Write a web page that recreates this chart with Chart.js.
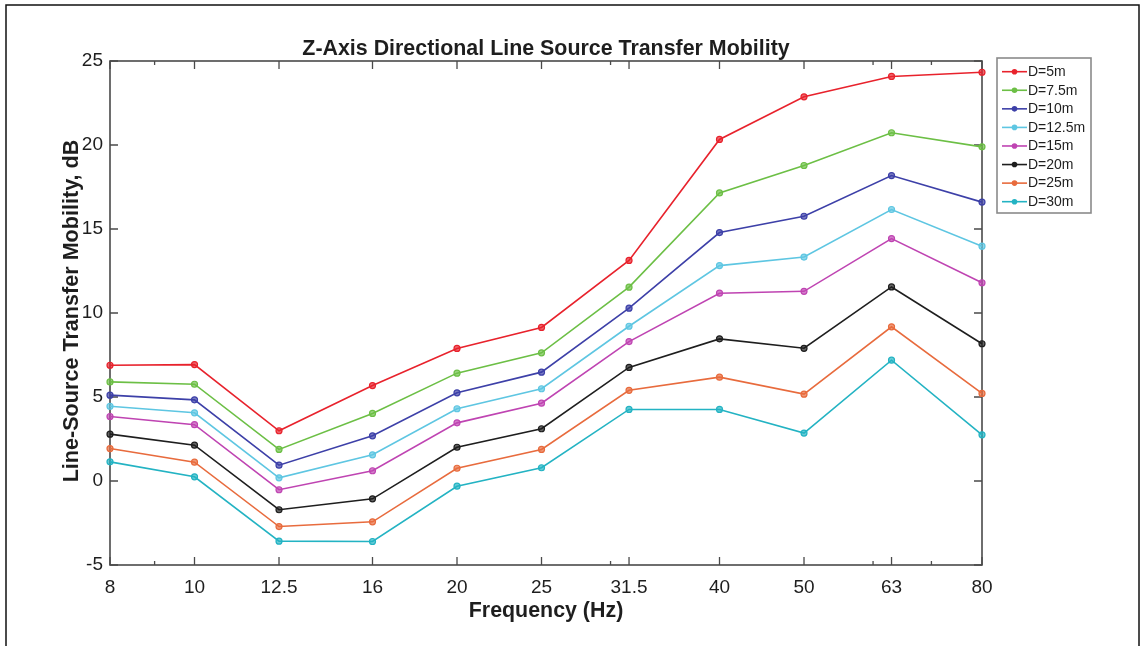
<!DOCTYPE html>
<html>
<head>
<meta charset="utf-8">
<script src="https://cdn.jsdelivr.net/npm/chart.js@4.4.1/dist/chart.umd.min.js"></script>
<style>
  html, body { margin: 0; padding: 0; background: #ffffff; }
  #wrap { width: 1141px; height: 646px; }
</style>
</head>
<body>
<div id="wrap"><canvas id="c" width="1141" height="646"></canvas></div>
<script>
// One-third-octave band centres (Hz) and their axis labels
const freqs = [8, 10, 12.5, 16, 20, 25, 31.5, 40, 50, 63, 80];
const freqLabels = ['8', '10', '12.5', '16', '20', '25', '31.5', '40', '50', '63', '80'];
const minorFreqs = [9, 30, 60, 70];
const yTicks = [-5, 0, 5, 10, 15, 20, 25];

// Line-source transfer mobility (dB) per source distance
const seriesNames = ['D=5m', 'D=7.5m', 'D=10m', 'D=12.5m', 'D=15m', 'D=20m', 'D=25m', 'D=30m'];
const d5   = [6.89, 6.93, 2.99, 5.68, 7.89, 9.14, 13.13, 20.33, 22.87, 24.08, 24.33];
const d7_5 = [5.90, 5.76, 1.88, 4.02, 6.42, 7.63, 11.54, 17.15, 18.78, 20.73, 19.89];
const d10  = [5.11, 4.83, 0.94, 2.69, 5.25, 6.48, 10.29, 14.79, 15.76, 18.18, 16.60];
const d12_5 = [4.45, 4.06, 0.19, 1.56, 4.30, 5.49, 9.21, 12.82, 13.33, 16.16, 13.98];
const d15  = [3.84, 3.35, -0.52, 0.61, 3.46, 4.63, 8.30, 11.18, 11.29, 14.43, 11.80];
const d20  = [2.79, 2.13, -1.71, -1.06, 2.01, 3.11, 6.76, 8.46, 7.90, 11.55, 8.17];
const d25  = [1.93, 1.12, -2.71, -2.43, 0.76, 1.88, 5.40, 6.18, 5.17, 9.18, 5.21];
const d30  = [1.14, 0.25, -3.58, -3.60, -0.31, 0.79, 4.26, 4.26, 2.85, 7.19, 2.75];
const seriesValues = [d5, d7_5, d10, d12_5, d15, d20, d25, d30];
const seriesColors = ['#e8222c', '#6cbf45', '#3d40a8', '#5ec6e2', '#bf44b2', '#1e1e1e', '#e86b3d', '#23b3c3'];

const FONT = '"Liberation Sans", Arial, sans-serif';
const AXIS_COLOR = '#4a4a4a';
const TEXT_COLOR = '#1e1e1e';

const datasets = seriesNames.map((name, i) => ({
  label: name,
  data: freqs.map((f, j) => ({ x: f, y: seriesValues[i][j] })),
  borderColor: seriesColors[i],
  backgroundColor: seriesColors[i],
  borderWidth: 1.6,
  pointRadius: 3,
  pointBorderWidth: 1.2,
  pointBackgroundColor: seriesColors[i] + 'b0',
  pointBorderColor: seriesColors[i],
  tension: 0,
  clip: false
}));

// Axes box, ticks, title, axis titles and legend drawn around the plot area
const decorations = {
  id: 'decorations',
  beforeDraw(chart) {
    const ctx = chart.ctx;
    ctx.save();
    ctx.fillStyle = '#ffffff';
    ctx.fillRect(0, 0, chart.width, chart.height);
    // outer figure frame
    ctx.strokeStyle = '#111111';
    ctx.lineWidth = 1.5;
    ctx.strokeRect(6, 5, 1133, 700);
    ctx.restore();
  },
  beforeDatasetsDraw(chart) {
    const ctx = chart.ctx;
    const a = chart.chartArea;
    const xs = chart.scales.x, ys = chart.scales.y;
    ctx.save();
    ctx.strokeStyle = AXIS_COLOR;
    ctx.lineWidth = 1.6;
    ctx.strokeRect(a.left, a.top, a.right - a.left, a.bottom - a.top);
    ctx.lineWidth = 1.3;
    ctx.beginPath();
    const major = 8, minor = 4;
    xs.ticks.forEach(t => {
      const px = xs.getPixelForValue(t.value);
      ctx.moveTo(px, a.bottom); ctx.lineTo(px, a.bottom - major);
      ctx.moveTo(px, a.top); ctx.lineTo(px, a.top + major);
    });
    minorFreqs.forEach(v => {
      const px = xs.getPixelForValue(v);
      ctx.moveTo(px, a.bottom); ctx.lineTo(px, a.bottom - minor);
      ctx.moveTo(px, a.top); ctx.lineTo(px, a.top + minor);
    });
    ys.ticks.forEach(t => {
      const py = ys.getPixelForValue(t.value);
      ctx.moveTo(a.left, py); ctx.lineTo(a.left + major, py);
      ctx.moveTo(a.right, py); ctx.lineTo(a.right - major, py);
    });
    ctx.stroke();
    ctx.restore();
  },
  afterDraw(chart) {
    const ctx = chart.ctx;
    const a = chart.chartArea;
    const cx = (a.left + a.right) / 2;
    ctx.save();
    ctx.fillStyle = TEXT_COLOR;
    ctx.textAlign = 'center';
    ctx.textBaseline = 'alphabetic';
    ctx.font = 'bold 21.4px ' + FONT;
    ctx.fillText('Z-Axis Directional Line Source Transfer Mobility', cx, 55);
    ctx.fillText('Frequency (Hz)', cx, 617);
    ctx.save();
    ctx.translate(78, 311);
    ctx.rotate(-Math.PI / 2);
    ctx.font = 'bold 21.6px ' + FONT;
    ctx.fillText('Line-Source Transfer Mobility, dB', 0, 0);
    ctx.restore();

    // legend
    const lx = 997, ly = 58, lw = 94, lh = 155;
    ctx.fillStyle = '#ffffff';
    ctx.fillRect(lx, ly, lw, lh);
    ctx.strokeStyle = '#8a8a8a';
    ctx.lineWidth = 1.6;
    ctx.strokeRect(lx, ly, lw, lh);
    ctx.font = '14px ' + FONT;
    ctx.textAlign = 'left';
    ctx.textBaseline = 'middle';
    chart.data.datasets.forEach((ds, i) => {
      const y = 71.7 + i * 18.57;
      ctx.strokeStyle = ds.borderColor;
      ctx.lineWidth = 1.6;
      ctx.beginPath();
      ctx.moveTo(1002, y); ctx.lineTo(1027, y);
      ctx.stroke();
      ctx.beginPath();
      ctx.arc(1014.5, y, 2.8, 0, Math.PI * 2);
      ctx.fillStyle = ds.borderColor;
      ctx.fill();
      ctx.fillStyle = TEXT_COLOR;
      ctx.fillText(ds.label, 1028, y + 0.5);
    });
    ctx.restore();
  }
};

new Chart(document.getElementById('c'), {
  type: 'line',
  data: { datasets },
  options: {
    responsive: false,
    animation: false,
    devicePixelRatio: 1,
    layout: { padding: { left: 0, top: 61, right: 159, bottom: 0 } },
    plugins: { legend: { display: false }, tooltip: { enabled: false }, title: { display: false } },
    scales: {
      x: {
        type: 'logarithmic',
        min: 8,
        max: 80,
        grid: { display: false, drawTicks: false },
        border: { display: false },
        afterBuildTicks(scale) { scale.ticks = freqs.map(v => ({ value: v })); },
        afterFit(scale) { scale.height = 81; },
        ticks: {
          autoSkip: false,
          maxRotation: 0,
          padding: 11,
          color: TEXT_COLOR,
          font: { family: FONT, size: 19 },
          callback(value) { const i = freqs.indexOf(value); return i >= 0 ? freqLabels[i] : ''; }
        }
      },
      y: {
        min: -5,
        max: 25,
        grid: { display: false, drawTicks: false },
        border: { display: false },
        afterBuildTicks(scale) { scale.ticks = yTicks.map(v => ({ value: v })); },
        afterFit(scale) { scale.width = 110; },
        ticks: {
          padding: 7,
          color: TEXT_COLOR,
          font: { family: FONT, size: 19 },
          callback(value) { return String(value); }
        }
      }
    }
  },
  plugins: [decorations]
});
</script>
</body>
</html>
